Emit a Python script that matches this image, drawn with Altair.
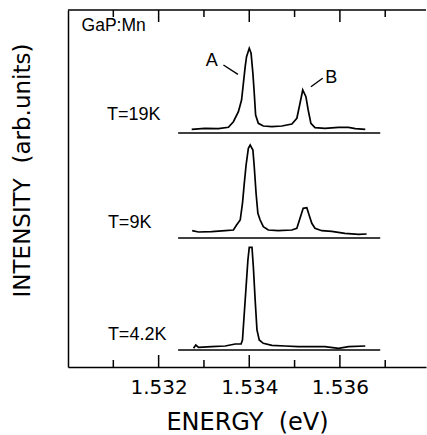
import altair as alt
import pandas as pd

# Photoluminescence spectra of GaP:Mn at three temperatures
energy_19K = [1.53273, 1.53302, 1.53332, 1.53354, 1.53365, 1.53376, 1.53383, 1.53387,
              1.53391, 1.53394, 1.53400, 1.53404, 1.53408, 1.53411, 1.53414, 1.53420,
              1.53431, 1.53450, 1.53472, 1.53494, 1.53505, 1.53512, 1.53518, 1.53525,
              1.53530, 1.53536, 1.53545, 1.53567, 1.53597, 1.53619, 1.53634, 1.53656]
intensity_19K = [3.7, 4.7, 4.3, 5.7, 11.3, 21.3, 33, 49.7,
                 66.3, 76.3, 84.7, 79.7, 59.7, 39.7, 18, 9.7,
                 7, 6.3, 7, 9, 14.7, 29.7, 43, 36.3,
                 23, 9.7, 5.3, 4.7, 5.7, 5.7, 4.3, 3.7]

energy_9K = [1.53274, 1.53288, 1.53317, 1.53347, 1.53365, 1.53372, 1.53380, 1.53385,
             1.53389, 1.53393, 1.53398, 1.53402, 1.53408, 1.53411, 1.53415, 1.53419,
             1.53424, 1.53431, 1.53442, 1.53464, 1.53494, 1.53505, 1.53512, 1.53519,
             1.53527, 1.53532, 1.53538, 1.53545, 1.53560, 1.53582, 1.53611, 1.53641,
             1.53659]
intensity_9K = [7.3, 6, 6.3, 7.3, 8, 13, 18, 34.7,
                54.7, 73, 89.7, 93, 88, 71.3, 44.7, 24.7,
                18, 11.3, 8, 7.3, 8, 9.7, 19.7, 29.7,
                30.3, 23, 14.7, 9.7, 7.3, 6.7, 4.7, 3.7,
                4]

energy_4K = [1.53277, 1.53282, 1.53288, 1.53317, 1.53347, 1.53369, 1.53382, 1.53385,
             1.53389, 1.53393, 1.53397, 1.53400, 1.53406, 1.53409, 1.53413, 1.53417,
             1.53422, 1.53431, 1.53450, 1.53479, 1.53508, 1.53538, 1.53567, 1.53597,
             1.53619, 1.53656]
intensity_4K = [1.7, 5, 2.7, 3.3, 4, 6, 6, 10,
                36.7, 63.3, 90, 102.7, 102.7, 83.3, 50, 20,
                10, 6.7, 4.7, 4, 3.3, 3.3, 3.3, 1.7,
                3.3, 4]

traces = ["T=19K", "T=9K", "T=4.2K"]
offsets = [234, 129, 17]
label_energy = [1.53086, 1.53088, 1.53088]
label_level = [252, 143.7, 32.3]
baseline_start, baseline_end = 1.53243, 1.53689

sample_name = "GaP:Mn"
sample_pos = (1.53030, 341)

peak_names = ["A", "B"]
peak_label_energy = [1.53317, 1.53581]
peak_label_level = [306, 289.5]
leader_e1 = [1.53343, 1.53536]
leader_l1 = [302, 280.3]
leader_e2 = [1.53375, 1.53562]
leader_l2 = [292.7, 288.7]

major_ticks = [1.532, 1.534, 1.536]
minor_ticks = [1.531, 1.533, 1.535, 1.537]

W, H = 358, 357
x_domain = [1.530, 1.5379]
y_domain = [0, 357]

rows = []
for name, off, es, ints in zip(traces, offsets,
                               [energy_19K, energy_9K, energy_4K],
                               [intensity_19K, intensity_9K, intensity_4K]):
    for i, (e, v) in enumerate(zip(es, ints)):
        rows.append({"trace": name, "i": i, "energy": e, "level": off + v})
spectra = pd.DataFrame(rows)

baselines = pd.DataFrame({"trace": traces, "energy": baseline_start,
                          "energy2": baseline_end, "level": offsets})
temp_labels = pd.DataFrame({"text": traces, "energy": label_energy, "level": label_level})
sample_df = pd.DataFrame({"text": [sample_name], "energy": [sample_pos[0]], "level": [sample_pos[1]]})
peaks_df = pd.DataFrame({"text": peak_names, "energy": peak_label_energy, "level": peak_label_level})
leaders_df = pd.DataFrame({"energy": leader_e1, "level": leader_l1,
                           "energy2": leader_e2, "level2": leader_l2})

AXIS_FONT = "DejaVu Sans"
LABEL_FONT = "Liberation Sans"

xs = alt.Scale(domain=x_domain, nice=False, zero=False)
ys = alt.Scale(domain=y_domain, nice=False, zero=False)

x_axis = alt.Axis(values=major_ticks, format=".3f", ticks=False, grid=False,
                  domain=True, domainColor="black", domainWidth=1.5,
                  labelFont=AXIS_FONT, labelFontSize=20, labelColor="black",
                  labelPadding=10,
                  title="ENERGY\u00a0\u00a0(eV)", titleFont=AXIS_FONT,
                  titleFontSize=24, titleFontWeight="normal", titleColor="black",
                  titlePadding=13)
y_axis = alt.Axis(ticks=False, labels=False, grid=False, domain=True,
                  domainColor="black", domainWidth=1.5,
                  title="INTENSITY\u00a0\u00a0(arb.units)", titleFont=AXIS_FONT,
                  titleFontSize=23, titleFontWeight="normal", titleColor="black",
                  titleAngle=270, titleX=-46, titleY=160, titleAlign="center",
                  titleBaseline="middle")


def X(field="energy"):
    return alt.X(f"{field}:Q", scale=xs, axis=x_axis)


def Y(field="level"):
    return alt.Y(f"{field}:Q", scale=ys, axis=y_axis)


lines = alt.Chart(spectra).mark_line(color="black", strokeWidth=1.7).encode(
    x=X(), y=Y(), detail="trace:N", order="i:Q")

base_rules = alt.Chart(baselines).mark_rule(color="black", strokeWidth=1.5).encode(
    x=X(), x2="energy2:Q", y=Y())

temp_text = alt.Chart(temp_labels).mark_text(
    align="left", baseline="middle", font=LABEL_FONT, fontSize=18, color="black"
).encode(x=X(), y=Y(), text="text:N")

sample_text = alt.Chart(sample_df).mark_text(
    align="left", baseline="middle", font=LABEL_FONT, fontSize=17.5, color="black"
).encode(x=X(), y=Y(), text="text:N")

peak_text = alt.Chart(peaks_df).mark_text(
    align="center", baseline="middle", font=LABEL_FONT, fontSize=18, color="black"
).encode(x=X(), y=Y(), text="text:N")

leaders = alt.Chart(leaders_df).mark_rule(color="black", strokeWidth=1.4).encode(
    x=X(), y=Y(), x2="energy2:Q", y2="level2:Q")

top_frame = alt.Chart(pd.DataFrame({"k": [0]})).mark_rule(
    color="black", strokeWidth=1.5
).encode(x=alt.value(0), x2=alt.value(W), y=alt.value(0))


def tick_layer(values, length, top):
    df = pd.DataFrame({"energy": values})
    if top:
        ypos, ypos2 = alt.value(0), alt.value(length)
    else:
        ypos, ypos2 = alt.value(H), alt.value(H - length)
    return alt.Chart(df).mark_rule(color="black", strokeWidth=1.5).encode(
        x=X(), y=ypos, y2=ypos2)


ticks = [tick_layer(major_ticks, 12, False), tick_layer(minor_ticks, 7, False),
         tick_layer(major_ticks, 12, True), tick_layer(minor_ticks, 7, True)]

chart = alt.layer(
    lines, base_rules, temp_text, sample_text, peak_text, leaders, top_frame, *ticks
).properties(
    width=W, height=H,
    padding={"left": 68, "top": 10, "right": 1, "bottom": 68},
    autosize=alt.AutoSizeParams(type="none"),
    background="white",
).configure_view(stroke=None)

chart.save("out.html", embed_options={"renderer": "svg", "actions": False})
